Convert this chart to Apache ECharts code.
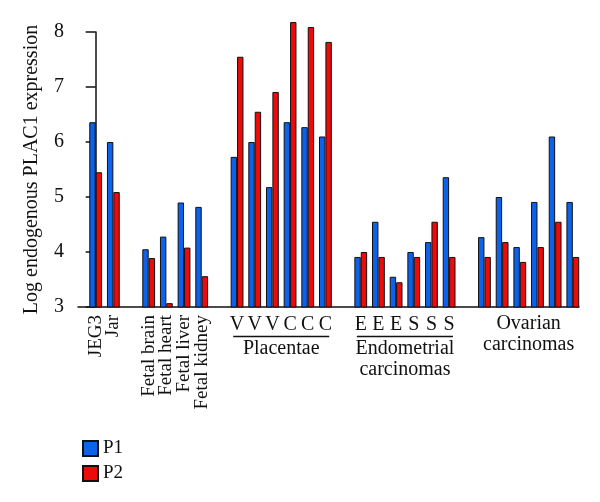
<!DOCTYPE html>
<html>
<head>
    <meta charset="utf-8">
    <title>PLAC1 expression</title>
    <script src="https://cdnjs.cloudflare.com/ajax/libs/echarts/6.0.0/echarts.min.js"></script>
</head>
<body style="margin:0">
<div id="main" style="width: 600px;height: 502px"></div>

<script>
    // slot index on the x axis for each sample (empty slots are the gaps between groups)
    const positions = [0, 1, 3, 4, 5, 6, 8, 9, 10, 11, 12, 13, 15, 16, 17, 18, 19, 20, 22, 23, 24, 25, 26, 27];
    const p1 = [6.36, 6.00, 4.05, 4.28, 4.90, 4.82, 5.73, 6.00, 5.18, 6.36, 6.27, 6.10,
        3.91, 4.55, 3.55, 4.00, 4.18, 5.36, 4.27, 5.00, 4.09, 4.91, 6.10, 4.91];
    const p2 = [5.45, 5.09, 3.89, 3.07, 4.08, 3.56, 7.55, 6.55, 6.91, 8.18, 8.09, 7.82,
        4.00, 3.91, 3.45, 3.91, 4.55, 3.91, 3.91, 4.18, 3.82, 4.09, 4.55, 3.91];

    // labels per slot
    const rotatedLabels = ['JEG3', 'Jar', '', 'Fetal brain', 'Fetal heart', 'Fetal liver', 'Fetal kidney'];
    const letterLabels = ['', '', '', '', '', '', '', '', 'V', 'V', 'V', 'C', 'C', 'C', '',
        'E', 'E', 'E', 'S', 'S', 'S'];
    const groupNames = ['Placentae', 'Endometrial\ncarcinomas', 'Ovarian\ncarcinomas'];
    const groupCenters = [10.5, 17.5, 24.5];
    const groupUnderlined = [true, true, false];

    const yName = 'Log endogenous PLAC1 expression';

    const font = "'Liberation Serif', 'DejaVu Serif', serif";
    const blue = '#0d62ec';
    const red = '#ec0a0a';

    function pairs(vals) {
        return vals.map(function (v, i) { return [positions[i], v]; });
    }

    function slotLabel(arr) {
        return function (v) {
            if (!Number.isInteger(v) || v < 0) return '';
            return arr[v] || '';
        };
    }

    function groupLabel(v) {
        const i = groupCenters.indexOf(v);
        if (i < 0) return '';
        const lines = groupNames[i].split('\n').map(function (s) { return '{nm|' + s + '}'; });
        if (groupUnderlined[i]) {
            return '{sp| }\n{ln| }\n' + lines.join('\n');
        }
        return lines.join('\n');
    }

    const baseX = {
        type: 'value',
        gridIndex: 0,
        min: -1,
        max: 27.35,
        position: 'bottom',
        axisTick: {show: false},
        splitLine: {show: false},
        axisLine: {show: false, onZero: false}
    };

    const myChart = echarts.init(document.getElementById('main'));
    myChart.setOption({
        backgroundColor: '#fff',
        animation: false,
        // grid 0 holds the bars (room above 8 for the tallest ones), grid 1 draws the visible y axis up to 8
        grid: [
            {left: 78, right: 21, top: 21, bottom: 195},
            {left: 78, right: 21, top: 32, bottom: 195}
        ],
        legend: {
            orient: 'vertical',
            left: 77,
            top: 434,
            itemWidth: 15,
            itemHeight: 15,
            itemGap: 6,
            icon: 'rect',
            textStyle: {fontFamily: font, fontSize: 19, color: '#111'},
            data: ['P1', 'P2']
        },
        xAxis: [
            Object.assign({}, baseX, {
                interval: 1,
                axisLine: {show: true, onZero: false, lineStyle: {color: '#111', width: 1.5}},
                axisLabel: {
                    rotate: 90, margin: 8, fontFamily: font, fontSize: 19, color: '#111',
                    formatter: slotLabel(rotatedLabels)
                }
            }),
            Object.assign({}, baseX, {
                interval: 1,
                axisLabel: {
                    margin: 8, fontFamily: font, fontSize: 20, color: '#111',
                    formatter: slotLabel(letterLabels)
                }
            }),
            Object.assign({}, baseX, {
                interval: 0.5,
                axisLabel: {
                    margin: 6, fontFamily: font, fontSize: 20, color: '#111',
                    formatter: groupLabel,
                    rich: {
                        sp: {lineHeight: 22, fontSize: 20},
                        ln: {width: 96, height: 1.5, lineHeight: 3, backgroundColor: '#111', fontSize: 2},
                        nm: {fontFamily: font, fontSize: 20, lineHeight: 21, color: '#111'}
                    }
                }
            }),
            {type: 'value', gridIndex: 1, min: -1, max: 27.35, show: false}
        ],
        yAxis: [
            {type: 'value', gridIndex: 0, min: 3, max: 8.2, show: false},
            {
                type: 'value',
                gridIndex: 1,
                min: 3,
                max: 8,
                interval: 1,
                name: yName,
                nameLocation: 'middle',
                nameGap: 36,
                nameRotate: 90,
                nameTextStyle: {fontFamily: font, fontSize: 20, color: '#111'},
                axisLine: {show: true, lineStyle: {color: '#111', width: 1.5}},
                axisTick: {show: true, length: 10, lineStyle: {color: '#111', width: 1.5}},
                splitLine: {show: false},
                axisLabel: {fontFamily: font, fontSize: 20, color: '#111', margin: 14}
            }
        ],
        series: [
            {
                name: 'P1', type: 'bar', xAxisIndex: 0, yAxisIndex: 0, barWidth: 6.4, barGap: '0%',
                itemStyle: {color: blue, borderColor: '#111', borderWidth: 1},
                data: pairs(p1)
            },
            {
                name: 'P2', type: 'bar', xAxisIndex: 0, yAxisIndex: 0, barWidth: 6.4, barGap: '0%',
                itemStyle: {color: red, borderColor: '#111', borderWidth: 1},
                data: pairs(p2)
            }
        ]
    });
</script>
</body>
</html>
